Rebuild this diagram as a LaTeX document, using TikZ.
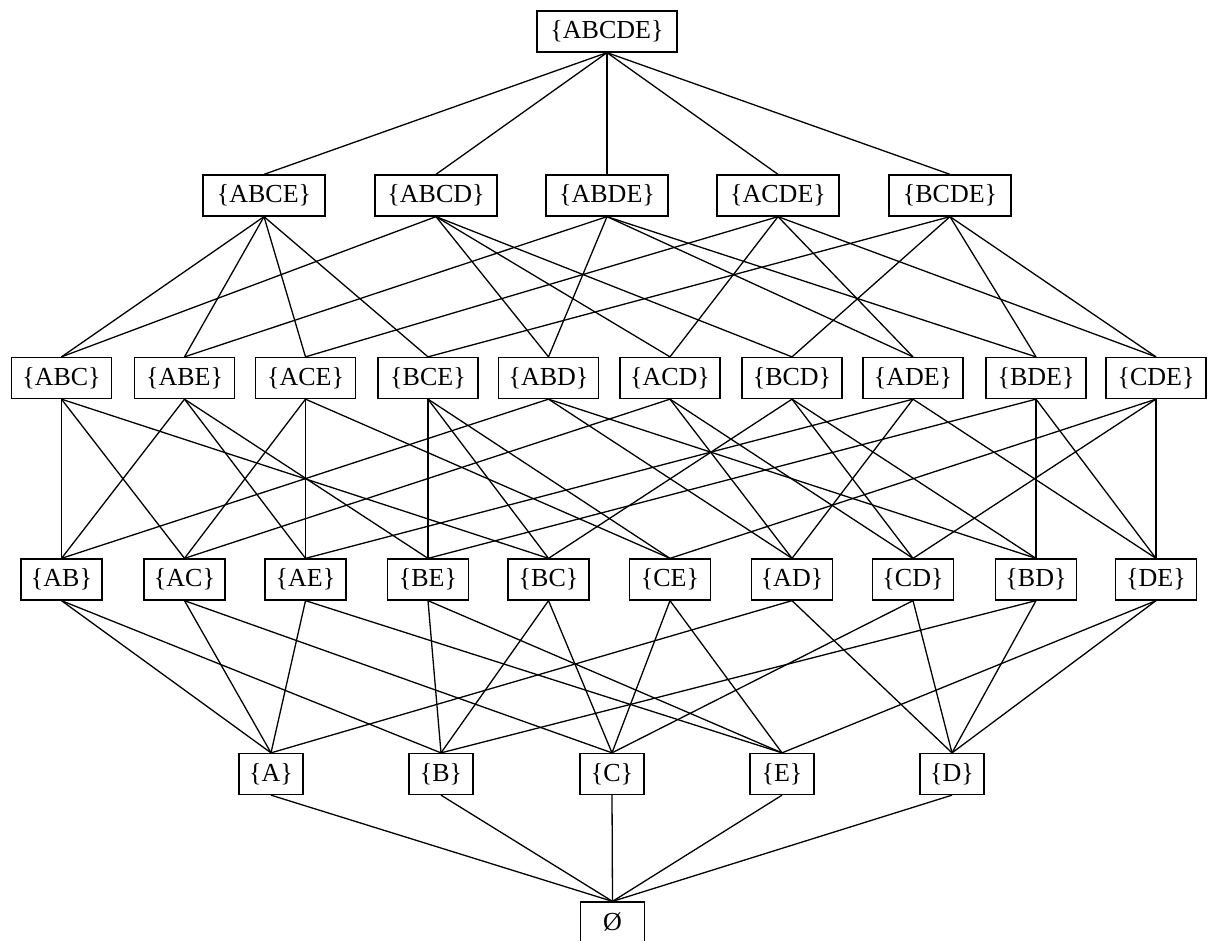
\documentclass[tikz,border=0pt]{standalone}
\usepackage{fontspec}
\setmainfont{Liberation Serif}
\tikzset{
  setbox/.style={draw, line width=1.3pt, inner xsep=1pt, inner ysep=0pt, minimum height=41pt, font=\fontsize{26}{30}\selectfont, anchor=center},
  w5/.style={setbox, minimum width=140pt},
  w4/.style={setbox, minimum width=122pt},
  w3/.style={setbox, minimum width=100pt},
  w2/.style={setbox, minimum width=81pt},
  w1/.style={setbox, minimum width=64pt},
  edge/.style={line width=1.3pt}
}
\begin{document}
\begin{tikzpicture}[x=1pt,y=-1pt]
\useasboundingbox (0,0) rectangle (1214,940);
% level 5
\node[w5] (ABCDE) at (607,31.5) {\{ABCDE\}};
% level 4
\node[w4] (ABCE) at (264,195.5) {\{ABCE\}};
\node[w4] (ABCD) at (436,195.5) {\{ABCD\}};
\node[w4] (ABDE) at (607,195.5) {\{ABDE\}};
\node[w4] (ACDE) at (778,195.5) {\{ACDE\}};
\node[w4] (BCDE) at (950,195.5) {\{BCDE\}};
% level 3
\node[w3] (ABC) at (61.5,378) {\{ABC\}};
\node[w3] (ABE) at (184.5,378) {\{ABE\}};
\node[w3] (ACE) at (305.5,378) {\{ACE\}};
\node[w3] (BCE) at (428,378) {\{BCE\}};
\node[w3] (ABD) at (548.5,378) {\{ABD\}};
\node[w3] (ACD) at (670,378) {\{ACD\}};
\node[w3] (BCD) at (792,378) {\{BCD\}};
\node[w3] (ADE) at (913,378) {\{ADE\}};
\node[w3] (BDE) at (1036,378) {\{BDE\}};
\node[w3] (CDE) at (1156,378) {\{CDE\}};
% level 2
\node[w2] (AB) at (61.5,579.5) {\{AB\}};
\node[w2] (AC) at (184.5,579.5) {\{AC\}};
\node[w2] (AE) at (305.5,579.5) {\{AE\}};
\node[w2] (BE) at (428,579.5) {\{BE\}};
\node[w2] (BC) at (548.5,579.5) {\{BC\}};
\node[w2] (CE) at (670,579.5) {\{CE\}};
\node[w2] (AD) at (792,579.5) {\{AD\}};
\node[w2] (CD) at (913,579.5) {\{CD\}};
\node[w2] (BD) at (1036,579.5) {\{BD\}};
\node[w2] (DE) at (1156,579.5) {\{DE\}};
% level 1
\node[w1] (A) at (271,774) {\{A\}};
\node[w1] (B) at (441,774) {\{B\}};
\node[w1] (C) at (612,774) {\{C\}};
\node[w1] (E) at (782,774) {\{E\}};
\node[w1] (D) at (952,774) {\{D\}};
% level 0
\node[w1] (empty) at (612.5,922.5) {Ø};
% edges
\foreach \l in {ABCE,ABCD,ABDE,ACDE,BCDE} \draw[edge] (ABCDE.south) -- (\l.north);
\foreach \l in {ABC,ABE,ACE,BCE} \draw[edge] (ABCE.south) -- (\l.north);
\foreach \l in {ABC,ABD,ACD,BCD} \draw[edge] (ABCD.south) -- (\l.north);
\foreach \l in {ABD,ABE,ADE,BDE} \draw[edge] (ABDE.south) -- (\l.north);
\foreach \l in {ACD,ACE,ADE,CDE} \draw[edge] (ACDE.south) -- (\l.north);
\foreach \l in {BCD,BCE,BDE,CDE} \draw[edge] (BCDE.south) -- (\l.north);
\foreach \l in {AB,AC,BC} \draw[edge] (ABC.south) -- (\l.north);
\foreach \l in {AB,AE,BE} \draw[edge] (ABE.south) -- (\l.north);
\foreach \l in {AC,AE,CE} \draw[edge] (ACE.south) -- (\l.north);
\foreach \l in {BC,BE,CE} \draw[edge] (BCE.south) -- (\l.north);
\foreach \l in {AB,AD,BD} \draw[edge] (ABD.south) -- (\l.north);
\foreach \l in {AC,AD,CD} \draw[edge] (ACD.south) -- (\l.north);
\foreach \l in {BC,BD,CD} \draw[edge] (BCD.south) -- (\l.north);
\foreach \l in {AD,AE,DE} \draw[edge] (ADE.south) -- (\l.north);
\foreach \l in {BD,BE,DE} \draw[edge] (BDE.south) -- (\l.north);
\foreach \l in {CD,CE,DE} \draw[edge] (CDE.south) -- (\l.north);
\foreach \l in {A,B} \draw[edge] (AB.south) -- (\l.north);
\foreach \l in {A,C} \draw[edge] (AC.south) -- (\l.north);
\foreach \l in {A,E} \draw[edge] (AE.south) -- (\l.north);
\foreach \l in {B,E} \draw[edge] (BE.south) -- (\l.north);
\foreach \l in {B,C} \draw[edge] (BC.south) -- (\l.north);
\foreach \l in {C,E} \draw[edge] (CE.south) -- (\l.north);
\foreach \l in {A,D} \draw[edge] (AD.south) -- (\l.north);
\foreach \l in {C,D} \draw[edge] (CD.south) -- (\l.north);
\foreach \l in {B,D} \draw[edge] (BD.south) -- (\l.north);
\foreach \l in {D,E} \draw[edge] (DE.south) -- (\l.north);
\foreach \l in {A,B,C,E,D} \draw[edge] (\l.south) -- (empty.north);
\end{tikzpicture}
\end{document}
